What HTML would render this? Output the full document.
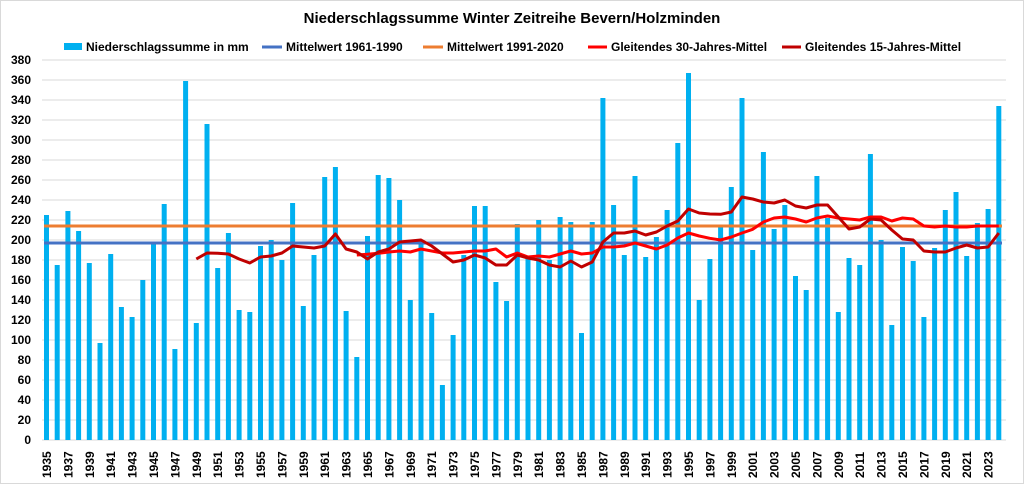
<!DOCTYPE html>
<html><head><meta charset="utf-8"><style>
html,body{margin:0;padding:0;background:#fff}
svg{display:block;font-family:"Liberation Sans",sans-serif}
</style></head><body>
<svg id="c" width="1024" height="484" viewBox="0 0 1024 484" xmlns="http://www.w3.org/2000/svg">
<rect x="0.5" y="0.5" width="1023" height="483" fill="#fff" stroke="#d9d9d9"/>
<text x="512" y="23" text-anchor="middle" font-size="15" font-weight="bold" fill="#000">Niederschlagssumme Winter Zeitreihe Bevern/Holzminden</text>
<g font-size="12" font-weight="bold" fill="#000">
<rect x="64" y="43" width="18" height="7" fill="#00b0f0"/><text x="86" y="51">Niederschlagssumme in mm</text>
<line x1="262" y1="47" x2="282" y2="47" stroke="#4472c4" stroke-width="3"/><text x="286" y="51">Mittelwert 1961-1990</text>
<line x1="423" y1="47" x2="443" y2="47" stroke="#ed7d31" stroke-width="3"/><text x="447" y="51">Mittelwert 1991-2020</text>
<line x1="588" y1="47" x2="607" y2="47" stroke="#ff0000" stroke-width="3"/><text x="611" y="51">Gleitendes 30-Jahres-Mittel</text>
<line x1="782" y1="47" x2="801" y2="47" stroke="#c00000" stroke-width="3"/><text x="805" y="51">Gleitendes 15-Jahres-Mittel</text>
</g>
<g id="g"></g>
</svg>
<script>
var g=document.getElementById('g'),ns='http://www.w3.org/2000/svg',h='';
function Y(v){return 440-v;}
var x0=46.5,st=10.70;function X(i){return x0+i*st;}
for(var v=0;v<=380;v+=20){h+='<line x1="42" x2="1006" y1="'+Y(v)+'" y2="'+Y(v)+'" stroke="#d9d9d9" stroke-width="1"/>';
h+='<text x="31" y="'+(Y(v)+4)+'" text-anchor="end" font-size="12" font-weight="bold">'+v+'</text>';}
var d=[225,175,229,209,177,97,186,133,123,160,196,236,91,359,117,316,172,207,130,128,194,200,180,237,134,185,263,273,129,83,204,265,262,240,140,200,127,55,105,185,234,234,158,139,216,183,220,180,223,218,107,218,342,235,185,264,183,203,230,297,367,140,181,213,253,342,190,288,211,235,164,150,264,222,128,182,175,286,200,115,193,179,123,192,230,248,184,217,231,334];
for(var i=0;i<d.length;i++){h+='<rect x="'+(X(i)-2.5)+'" y="'+Y(d[i])+'" width="5" height="'+d[i]+'" fill="#00b0f0"/>';}
for(var i=0;i<d.length;i+=2){var x=X(i)+4.5;h+='<text transform="translate('+x+',478) rotate(-90)" font-size="12" font-weight="bold">'+(1935+i)+'</text>';}
h+='<line x1="44" x2="1002" y1="'+Y(214)+'" y2="'+Y(214)+'" stroke="#ed7d31" stroke-width="3"/>';
h+='<line x1="44" x2="1002" y1="'+Y(197)+'" y2="'+Y(197)+'" stroke="#4472c4" stroke-width="3"/>';
var r30=[185,185.7,186.7,188,189,188,191,189,187,187,188,189,189,191,183,187,183,184,183,186,189,186,187,193,193,194,197,194,191,195,202,207,204,201.7,200,203,207,210.7,218,222,223,221,218,222,224,222,221,220,223,223,219,222,221,214,213,214,213,213,214,214,214];
var r15=[181,187,186.7,186,181,177,183,184,187,194,193,192,194,206,191,188,181,188,191,198,199,200,194,186,178,180,185,182,175,175,185,182,180,175,173,179,173,178,198,207,207,209,205,208,214,219,231,227,226,225.7,228,243,241,238,237,240,234,232,235,235,223,211,213,221,220,210,201,200,189,188,188,192,195,192,193,207];
function pl(a,s,c){var p=[];for(var i=0;i<a.length;i++)p.push(X(s+i).toFixed(1)+','+Y(a[i]));return '<polyline points="'+p.join(' ')+'" fill="none" stroke="'+c+'" stroke-width="3" stroke-linejoin="round"/>';}
h+=pl(r30,1964-1935,'#ff0000');
h+=pl(r15,1949-1935,'#c00000');
g.innerHTML=h;
</script>
</body></html>
